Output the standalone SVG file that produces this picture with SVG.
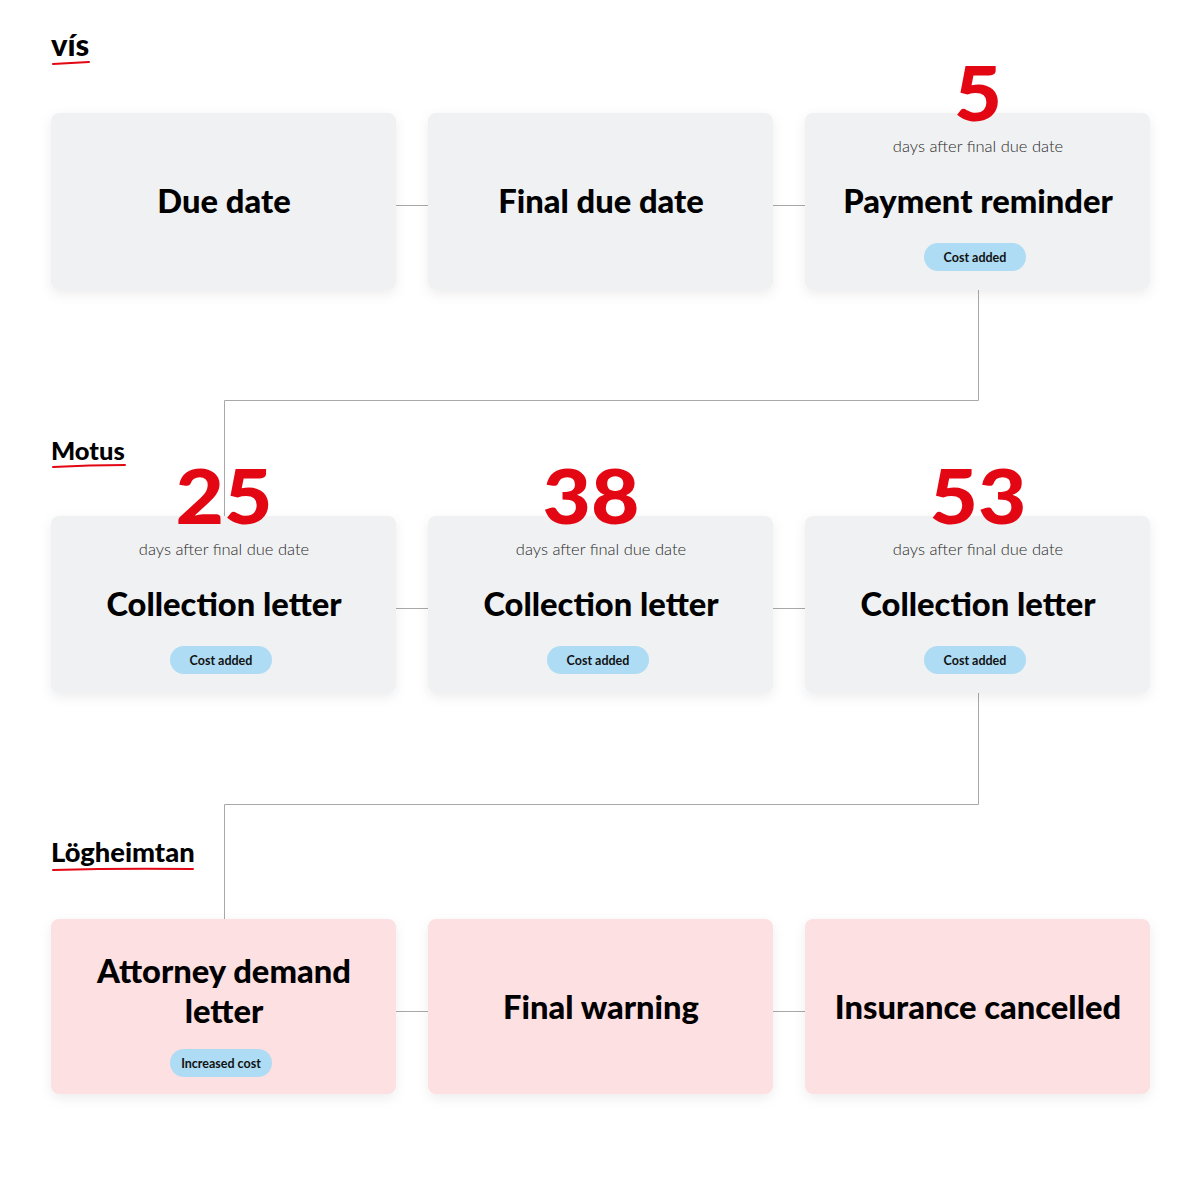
<svg xmlns="http://www.w3.org/2000/svg" width="1200" height="1187" viewBox="0 0 1200 1187">
<style>
.box{fill:#f0f1f2;filter:url(#sh)}
.pink{fill:#fde0e1;filter:url(#sh)}
.title{font-family:Lato,"Liberation Sans",sans-serif;font-weight:900;font-size:32.7px;fill:#000;text-anchor:middle}
.num{font-family:Lato,"Liberation Sans",sans-serif;font-weight:900;font-size:76px;fill:#e30613;text-anchor:middle}
.sub{font-family:Lato,"Liberation Sans",sans-serif;font-weight:300;font-size:16.5px;fill:#2a2a2a;text-anchor:middle}
.pill{fill:#aedcf4}
.ptxt{font-family:Lato,"Liberation Sans",sans-serif;font-weight:700;font-size:12.5px;fill:#111;text-anchor:middle}
.sec{font-family:Lato,"Liberation Sans",sans-serif;font-weight:900;font-size:25.5px;fill:#000}
.ul{fill:none;stroke:#e30613;stroke-width:2;stroke-linecap:round}
.conn{fill:none;stroke:#a8a8a8;stroke-width:1}
</style>
<defs>
<filter id="sh" x="-10%" y="-10%" width="120%" height="130%">
<feDropShadow dx="0" dy="4" stdDeviation="6" flood-color="#000" flood-opacity="0.07"/>
</filter>
</defs>
<rect width="1200" height="1187" fill="#fff"/>
<g id="connectors">
<line class="conn" x1="396" y1="205.5" x2="428" y2="205.5"/>
<line class="conn" x1="773" y1="205.5" x2="805" y2="205.5"/>
<path class="conn" d="M978.5 290 V400.5 H224.5 V516"/>
<line class="conn" x1="396" y1="608.5" x2="428" y2="608.5"/>
<line class="conn" x1="773" y1="608.5" x2="805" y2="608.5"/>
<path class="conn" d="M978.5 693 V804.5 H224.5 V919"/>
<line class="conn" x1="396" y1="1011.5" x2="428" y2="1011.5"/>
<line class="conn" x1="773" y1="1011.5" x2="805" y2="1011.5"/>
</g>
<g id="section-vis">
<text class="sec" x="51" y="56" style="font-size:31px">vís</text>
<path class="ul" d="M53 64 Q70 63 89 62"/>
</g>
<g id="section-motus">
<text class="sec" x="51" y="460">Motus</text>
<path class="ul" d="M53 467 Q90 465 125 465"/>
</g>
<g id="section-logheimtan">
<text class="sec" x="51" y="862" style="font-size:27.3px">Lögheimtan</text>
<path class="ul" d="M53 870 Q120 868 193 869"/>
</g>
<g id="node-due-date">
<rect class="box" x="51" y="113" width="345" height="177" rx="8"/>
<text class="title" x="224" y="213">Due date</text>
</g>
<g id="node-final-due-date">
<rect class="box" x="428" y="113" width="345" height="177" rx="8"/>
<text class="title" x="601" y="213">Final due date</text>
</g>
<g id="node-payment-reminder">
<rect class="box" x="805" y="113" width="345" height="177" rx="8"/>
<text class="num" transform="translate(978 121) scale(1.09 1)">5</text>
<text class="sub" x="978" y="152">days after final due date</text>
<text class="title" x="978" y="213">Payment reminder</text>
<rect class="pill" x="924" y="243" width="102" height="28" rx="14"/>
<text class="ptxt" x="975" y="261.5">Cost added</text>
</g>
<g id="node-collection-25">
<rect class="box" x="51" y="516" width="345" height="177" rx="8"/>
<text class="num" transform="translate(224 524) scale(1.1 1)">25</text>
<text class="sub" x="224" y="555">days after final due date</text>
<text class="title" x="224" y="616">Collection letter</text>
<rect class="pill" x="170" y="646" width="102" height="28" rx="14"/>
<text class="ptxt" x="221" y="664.5">Cost added</text>
</g>
<g id="node-collection-38">
<rect class="box" x="428" y="516" width="345" height="177" rx="8"/>
<text class="num" transform="translate(591 524) scale(1.1 1)">38</text>
<text class="sub" x="601" y="555">days after final due date</text>
<text class="title" x="601" y="616">Collection letter</text>
<rect class="pill" x="547" y="646" width="102" height="28" rx="14"/>
<text class="ptxt" x="598" y="664.5">Cost added</text>
</g>
<g id="node-collection-53">
<rect class="box" x="805" y="516" width="345" height="177" rx="8"/>
<text class="num" transform="translate(978 524) scale(1.1 1)">53</text>
<text class="sub" x="978" y="555">days after final due date</text>
<text class="title" x="978" y="616">Collection letter</text>
<rect class="pill" x="924" y="646" width="102" height="28" rx="14"/>
<text class="ptxt" x="975" y="664.5">Cost added</text>
</g>
<g id="node-attorney">
<rect class="pink" x="51" y="919" width="345" height="175" rx="8"/>
<text class="title" x="224" y="983">Attorney demand</text>
<text class="title" x="224" y="1023">letter</text>
<rect class="pill" x="170" y="1049" width="102" height="28" rx="14"/>
<text class="ptxt" x="221" y="1067.5">Increased cost</text>
</g>
<g id="node-final-warning">
<rect class="pink" x="428" y="919" width="345" height="175" rx="8"/>
<text class="title" x="601" y="1019">Final warning</text>
</g>
<g id="node-insurance-cancelled">
<rect class="pink" x="805" y="919" width="345" height="175" rx="8"/>
<text class="title" x="978" y="1019">Insurance cancelled</text>
</g>
</svg>
